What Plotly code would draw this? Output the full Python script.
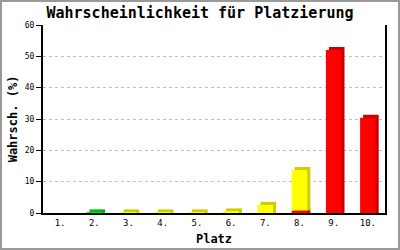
import plotly.graph_objects as go

places = ["1.", "2.", "3.", "4.", "5.", "6.", "7.", "8.", "9.", "10."]
red_vals = [0, 0, 0, 0, 0, 0, 0, 0.8, 52.0, 30.4]
green_vals = [0, 0.2, 0, 0, 0, 0, 0, 0, 0, 0]
yellow_vals = [0, 0, 0.2, 0.2, 0.2, 0.5, 2.6, 12.9, 0, 0]

series = [
    ("rot", red_vals, "#ff0000", "#cc0000"),
    ("grün", green_vals, "#00ee00", "#00bb00"),
    ("gelb", yellow_vals, "#ffff00", "#cccc00"),
]

W, H = 400, 250
L, R, T, B = 43, 15, 25, 37
PW, PH = W - L - R, H - T - B
YMAX = 60
depth_y = 3 * YMAX / PH          # 3 px in data units
cat_px = PW / len(places)
bar_w = 15.6 / cat_px
bar_off = -7.8 / cat_px
depth_x = 3 / cat_px

fig = go.Figure()

bases = []
cum = [0] * len(places)
for name, vals, c, dc in series:
    bases.append(list(cum))
    cum = [a + b for a, b in zip(cum, vals)]

for (name, vals, c, dc), base in zip(series, bases):
    ys = [v + depth_y if v > 0 else 0 for v in vals]
    fig.add_trace(go.Bar(x=places, y=ys, base=base, marker=dict(color=dc, line=dict(width=0)),
                         width=bar_w, offset=bar_off + depth_x, showlegend=False, hoverinfo="skip"))
for (name, vals, c, dc), base in zip(series, bases):
    fig.add_trace(go.Bar(x=places, y=vals, base=base, name=name, marker=dict(color=c, line=dict(width=0)),
                         width=bar_w, offset=bar_off, showlegend=False))

mono = "DejaVu Sans Mono"
fig.update_layout(
    width=W, height=H, barmode="overlay",
    margin=dict(l=L, r=R, t=T, b=B, pad=0, autoexpand=False),
    paper_bgcolor="white", plot_bgcolor="white",
    title=dict(text="<b>Wahrscheinlichkeit für Platzierung</b>", x=0.5, xref="container",
               y=1 - 13 / H, yref="container", yanchor="middle", xanchor="center",
               font=dict(family=mono, size=15, color="black")),
    font=dict(family=mono, color="black"),
)
fig.update_xaxes(
    type="category", showline=True, linecolor="black", linewidth=2, ticks="", showgrid=False,
    tickfont=dict(family=mono, size=9, color="black"), automargin=False,
    title=dict(text="<b>Platz</b>", font=dict(family=mono, size=12, color="black"), standoff=8),
    fixedrange=True,
)
fig.update_yaxes(
    range=[0, YMAX], dtick=10, showline=True, mirror=True, linecolor="black", linewidth=2,
    ticks="outside", ticklen=5, tickcolor="black", tickwidth=1,
    showgrid=True, gridcolor="#c0c0c0", griddash="dot", gridwidth=1, zeroline=False,
    tickfont=dict(family=mono, size=8, color="black"), automargin=False,
    title=dict(text="<b>Wahrsch. (%)</b>", font=dict(family=mono, size=12, color="black"), standoff=5),
    fixedrange=True,
)

# outer gray frame around the whole image (pixel -> paper conversion)
fig.add_shape(type="rect", xref="paper", yref="paper",
              x0=(1 - L) / PW, x1=(W - 1 - L) / PW,
              y0=(H - B - (H - 1)) / PH, y1=(H - B - 1) / PH,
              line=dict(color="#999999", width=2), fillcolor="rgba(0,0,0,0)", layer="above")

fig.write_html("out.html")
